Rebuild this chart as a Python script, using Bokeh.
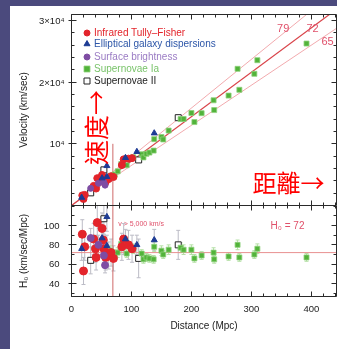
import math
from bokeh.plotting import figure
from bokeh.models import (Range1d, LinearAxis, FixedTicker, Label, Spacer, Whisker, TeeHead,
                          ColumnDataSource, Legend, LegendItem, CustomLabelingPolicy)
from bokeh.layouts import column, row
from bokeh.embed import file_html
from bokeh.resources import INLINE

# ---------------- data ----------------
# Infrared Tully-Fisher
tf_dist = [18, 20, 22, 37, 40, 41, 43, 51, 53, 54, 57, 62, 66, 70, 84, 87, 95, 101]
tf_vel = [1640, 1060, 1720, 3180, 3040, 2750, 4430, 4950, 4510, 4100, 3820, 4280, 4750, 4620,
          6550, 7480, 7600, 7680]
tf_h0 = [91, 53, 78, 86, 76, 67, 103, 97, 85, 76, 67, 69, 72, 66, 78, 86, 80, 76]
tf_err = [15, 14, 14, 16, 14, 13, 18, 16, 15, 14, 13, 14, 14, 13, 14, 16, 15, 14]

# Elliptical galaxy dispersions (fundamental plane)
fp_dist = [17, 51, 59, 59, 90, 109, 138]
fp_vel = [1290, 4440, 6430, 4660, 7740, 8720, 11730]
fp_h0 = [76, 87, 109, 79, 86, 80, 85]
fp_err = [12, 12, 15, 11, 10, 10, 11]

# Surface brightness fluctuations
sbf_dist = [32, 45, 54, 56]
sbf_vel = [2780, 3600, 3730, 3300]
sbf_h0 = [87, 80, 69, 59]
sbf_err = [10, 10, 9, 8]

# Supernovae Ia
sn1_dist = [60, 65, 72, 77, 83, 92, 103, 117, 120, 125, 130, 137, 138, 150, 153, 162, 182, 187,
            200, 205, 217, 237, 238, 262, 277, 280, 305, 310, 392]
sn1_vel = [4260, 4810, 5040, 5540, 6720, 6530, 7830, 8310, 7800, 8380, 8580, 8900, 10760, 11100,
           10710, 12150, 14010, 14030, 15000, 13530, 14970, 17060, 15470, 17820, 22160, 18760,
           21350, 23560, 26260]
sn1_h0 = [71, 74, 70, 72, 81, 71, 76, 71, 65, 67, 66, 65, 78, 74, 70, 75, 77, 75, 75, 66, 69, 72,
          65, 68, 80, 67, 70, 76, 67]
sn1_err = [5, 5, 5, 5, 5, 4, 5, 4, 4, 4, 4, 4, 5, 5, 4, 5, 5, 5, 5, 4, 4, 5, 4, 4, 5, 4, 4, 5, 4]

# Supernovae II
sn2_dist = [32, 54, 112, 178]
sn2_vel = [2050, 5780, 7390, 14240]
sn2_h0 = [64, 107, 66, 80]
sn2_err = [14, 16, 20, 15]

# Hubble-law lines and cut-off
h_best = 72
h_band = [65, 79]
line_dist = [0, 442]
cut_dist = 69
cut_vel = [0, 10000]

# axes
dist_ticks = [0, 100, 200, 300, 400]
dist_minor = list(range(0, 441, 20))
vel_ticks = [10000, 20000, 30000]
vel_minor = list(range(0, 31000, 2000))
vel_tick_labels = ["10⁴", "2×10⁴", "3×10⁴"]
vel_zero_label = "0"
h0_ticks = [40, 60, 80, 100]
h0_minor = list(range(30, 121, 10))

legend_names = ["Infrared Tully–Fisher", "Elliptical galaxy dispersions", "Surface brightness",
                "Supernovae Ia", "Supernovae II"]

# ---------------- styling ----------------
FONT = "Liberation Sans"
CJK = "Noto Sans CJK TC"
AX = "#2a2a2a"
BG = "#4b4a7d"
RED = "#e3242b"
BLUE = "#1d3b94"
PURP = "#7e4ca3"
GREEN = "#52b33a"
ERR = "#bcbcc6"
LINE72 = "#d9444a"
LINEBAND = "#f2aaae"
NOTE = "#e0506a"

NO_LABELS = CustomLabelingPolicy(code="""
try {
  const n = indices.size
  for (let i = 0; i < n; i++) { indices.unset(i) }
} catch (e) {}
return indices
""")


def style_axis(ax, labels=True, tick_in=5, tick_out=0, minor_in=3, standoff=5, size="9.5px"):
    ax.axis_line_color = AX
    ax.major_tick_line_color = AX
    ax.minor_tick_line_color = AX
    ax.major_tick_in = tick_in
    ax.major_tick_out = tick_out
    ax.minor_tick_in = minor_in
    ax.minor_tick_out = 0
    ax.major_label_text_font = FONT
    ax.major_label_text_color = "#222222"
    ax.axis_label_text_font = FONT
    ax.axis_label_text_font_style = "normal"
    ax.axis_label_text_color = "#222222"
    ax.axis_label_text_font_size = "10px"
    if labels:
        ax.major_label_text_font_size = size
        ax.major_label_standoff = standoff
    else:
        ax.major_label_text_font_size = "0px"
        ax.major_label_standoff = 0
        ax.major_label_policy = NO_LABELS
    return ax


x_range = Range1d(0, 442)

# ---------------- upper panel ----------------
p1 = figure(width=327, height=199, x_range=x_range, y_range=Range1d(0, 30970),
            output_backend="svg", toolbar_location=None,
            x_axis_location=None, y_axis_location=None,
            min_border_left=61, min_border_right=1, min_border_top=8, min_border_bottom=0)
p1.xgrid.grid_line_color = None
p1.ygrid.grid_line_color = None
p1.outline_line_color = None
p1.background_fill_color = "white"
p1.border_fill_color = "white"

ly = LinearAxis(ticker=FixedTicker(ticks=vel_ticks, minor_ticks=vel_minor),
                axis_label="Velocity (km/sec)",
                major_label_overrides={t: s for t, s in zip(vel_ticks, vel_tick_labels)})
style_axis(ly, labels=True, tick_in=5, tick_out=3, standoff=4)
ly.axis_label_standoff = 7
p1.add_layout(ly, "left")
p1.add_layout(style_axis(LinearAxis(ticker=FixedTicker(ticks=vel_ticks, minor_ticks=vel_minor)), labels=False), "right")
p1.add_layout(style_axis(LinearAxis(ticker=FixedTicker(ticks=dist_ticks, minor_ticks=dist_minor)), labels=False), "above")
p1.add_layout(style_axis(LinearAxis(ticker=FixedTicker(ticks=dist_ticks, minor_ticks=dist_minor)), labels=False), "below")

for h in h_band:
    p1.line(line_dist, [h * d for d in line_dist], line_color=LINEBAND, line_width=1)
p1.line(line_dist, [h_best * d for d in line_dist], line_color=LINE72, line_width=1.2)
p1.line([cut_dist, cut_dist], cut_vel, line_color="#cf6a6a", line_width=1)

r_sn2 = p1.scatter(sn2_dist, sn2_vel, marker="square", size=6, fill_color="white", line_color="#222222", line_width=1)
r_sn1 = p1.scatter(sn1_dist, sn1_vel, marker="square", size=5, fill_color=GREEN, line_color="#8fd27c", line_width=0.8)
r_tf = p1.scatter(tf_dist, tf_vel, marker="circle", size=7, fill_color=RED, line_color=RED)
r_sbf = p1.scatter(sbf_dist, sbf_vel, marker="circle", size=6, fill_color=PURP, line_color=PURP)
r_fp = p1.scatter(fp_dist, fp_vel, marker="triangle", size=6, fill_color=BLUE, line_color=BLUE)

leg_colors = [RED, "#2d56a8", "#9b7cc4", "#79c36a", "#222222"]
leg_renderers = [r_tf, r_fp, r_sbf, r_sn1, r_sn2]
leg_y = [165.5, 154.5, 141.5, 129.5, 117.5]
for name, col, rend, yy in zip(legend_names, leg_colors, leg_renderers, leg_y):
    lg = Legend(items=[LegendItem(label=name, renderers=[rend])], location=(8, yy),
                glyph_width=15, glyph_height=15, label_height=10, label_standoff=0,
                padding=0, margin=0, spacing=0,
                label_text_font=FONT, label_text_font_size="10px", label_text_color=col,
                background_fill_alpha=0, border_line_alpha=0)
    p1.add_layout(lg)

for txt, xx, yy in [("79", 353, 28840), ("72", 402, 28840), ("65", 427, 26730)]:
    p1.add_layout(Label(x=xx, y=yy, text=txt, text_font=FONT, text_font_size="11px",
                        text_color=NOTE, text_align="center", text_baseline="middle"))

p1.add_layout(Label(x=40, y=12640, text="速度→", angle=math.pi / 2, text_font=CJK,
                    text_font_size="25px", text_color="#ff0000", text_align="center",
                    text_baseline="middle"))
p1.add_layout(Label(x=302, y=3890, text="距離→", text_font=CJK, text_font_size="24px",
                    text_color="#ff0000", text_align="left", text_baseline="middle"))

# ---------------- lower panel ----------------
p2 = figure(width=327, height=144, x_range=x_range, y_range=Range1d(26.6, 120.7),
            output_backend="svg", toolbar_location=None,
            x_axis_location=None, y_axis_location=None,
            min_border_left=61, min_border_right=1, min_border_top=0, min_border_bottom=53)
p2.xgrid.grid_line_color = None
p2.ygrid.grid_line_color = None
p2.outline_line_color = None
p2.background_fill_color = "white"
p2.border_fill_color = "white"

ly2 = LinearAxis(ticker=FixedTicker(ticks=h0_ticks, minor_ticks=h0_minor), axis_label="H₀ (km/sec/Mpc)")
style_axis(ly2, labels=True, tick_in=5, tick_out=3, standoff=9)
ly2.axis_label_standoff = 12
p2.add_layout(ly2, "left")
p2.add_layout(style_axis(LinearAxis(ticker=FixedTicker(ticks=h0_ticks, minor_ticks=h0_minor)), labels=False), "right")
p2.add_layout(style_axis(LinearAxis(ticker=FixedTicker(ticks=dist_ticks, minor_ticks=dist_minor)), labels=False), "above")
bx2 = LinearAxis(ticker=FixedTicker(ticks=dist_ticks, minor_ticks=dist_minor), axis_label="Distance (Mpc)")
style_axis(bx2, labels=True, tick_in=5, tick_out=0, standoff=9)
bx2.axis_label_standoff = 5
p2.add_layout(bx2, "below")

# the velocity axis "0" label, sitting just under the shared border
p2.add_layout(Label(x=-7 / 0.6, y=115.5, text=vel_zero_label, text_font=FONT, text_font_size="9.5px",
                    text_color="#222222", text_align="right", text_baseline="middle"))

p2.line(line_dist, [h_best, h_best], line_color="#e89090", line_width=1)
p2.line([cut_dist, cut_dist], [26.6, 120.7], line_color="#cf6a6a", line_width=1)


def add_err(dist, h0, err, color):
    src = ColumnDataSource(dict(base=dist, upper=[h + e for h, e in zip(h0, err)],
                                lower=[h - e for h, e in zip(h0, err)]))
    p2.add_layout(Whisker(source=src, base="base", upper="upper", lower="lower",
                          line_color=color, line_width=1,
                          upper_head=TeeHead(size=4, line_color=color),
                          lower_head=TeeHead(size=4, line_color=color)))


add_err(tf_dist, tf_h0, tf_err, ERR)
add_err(fp_dist, fp_h0, fp_err, ERR)
add_err(sbf_dist, sbf_h0, sbf_err, ERR)
add_err(sn2_dist, sn2_h0, sn2_err, ERR)
add_err(sn1_dist, sn1_h0, sn1_err, "#b5e0a6")

p2.scatter(sn2_dist, sn2_h0, marker="square", size=6, fill_color="white", line_color="#222222", line_width=1)
p2.scatter(sn1_dist, sn1_h0, marker="square", size=5, fill_color=GREEN, line_color="#8fd27c", line_width=0.8)
p2.scatter(tf_dist, tf_h0, marker="circle", size=8, fill_color=RED, line_color=RED)
p2.scatter(sbf_dist, sbf_h0, marker="circle", size=7, fill_color=PURP, line_color=PURP)
p2.scatter(fp_dist, fp_h0, marker="triangle", size=6, fill_color=BLUE, line_color=BLUE)

p2.add_layout(Label(x=78, y=102, text="v > 5,000 km/s", text_font=FONT, text_font_size="7px",
                    text_color=NOTE, text_align="left", text_baseline="middle"))
p2.add_layout(Label(x=332, y=100, text="H₀ = 72", text_font=FONT, text_font_size="10px",
                    text_color=NOTE, text_align="left", text_baseline="middle"))
p2.add_layout(Label(x=-98, y=-14.8, text="B", text_font=FONT, text_font_size="10px",
                    text_font_style="bold italic", text_color="#111111", text_align="left",
                    text_baseline="middle"))
p2.add_layout(Label(x=-98, y=-24, text="Wendy L. Freedman, Observatories of the Carnegie Institution of Washington, and NASA",
                    text_font=FONT, text_font_size="3px", text_color="#666666",
                    text_align="left", text_baseline="middle"))

# ---------------- page layout ----------------
top_strip = Spacer(width=337, height=6, styles={"background-color": BG})
left_strip = Spacer(width=10, height=343, styles={"background-color": BG})
root = column(top_strip, row(left_strip, column(p1, p2)),
              styles={"position": "fixed", "left": "0px", "top": "0px"})

open("out.html", "w").write(file_html(root, INLINE))
